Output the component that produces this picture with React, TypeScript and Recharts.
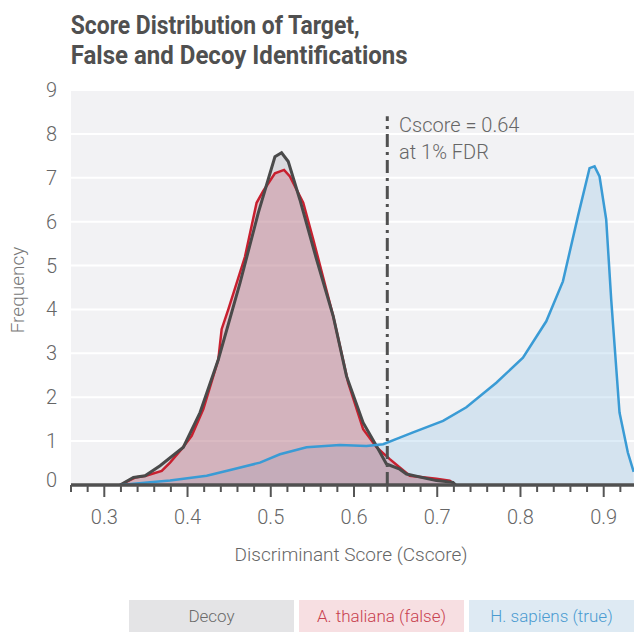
import React from 'react';
import { ComposedChart, Area, Line, XAxis, YAxis, CartesianGrid, ReferenceLine } from 'recharts';

// Decoy distribution
const decoyX = [0.319, 0.335, 0.349, 0.367, 0.395, 0.415, 0.437, 0.463, 0.485, 0.495, 0.505, 0.513, 0.521, 0.535, 0.555, 0.575, 0.591, 0.611, 0.627, 0.639, 0.655, 0.663, 0.699, 0.719, 0.722];
const decoyY = [0, 0.17, 0.21, 0.44, 0.86, 1.65, 2.86, 4.6, 6.2, 6.84, 7.48, 7.57, 7.37, 6.5, 5.14, 3.85, 2.48, 1.42, 0.89, 0.48, 0.36, 0.25, 0.1, 0.06, 0];

// A. thaliana (false)
const falseX = [0.319, 0.337, 0.35, 0.369, 0.379, 0.393, 0.405, 0.419, 0.437, 0.441, 0.449, 0.469, 0.483, 0.491, 0.505, 0.516, 0.523, 0.539, 0.551, 0.575, 0.593, 0.611, 0.627, 0.643, 0.655, 0.667, 0.699, 0.715, 0.722];
const falseY = [0, 0.17, 0.21, 0.32, 0.51, 0.82, 1.12, 1.73, 2.86, 3.55, 4.0, 5.2, 6.43, 6.7, 7.1, 7.18, 7.03, 6.43, 5.6, 3.85, 2.33, 1.27, 0.86, 0.59, 0.4, 0.21, 0.14, 0.1, 0];

// H. sapiens (true)
const trueX = [0.319, 0.355, 0.379, 0.423, 0.455, 0.487, 0.511, 0.543, 0.583, 0.615, 0.635, 0.655, 0.671, 0.707, 0.735, 0.771, 0.803, 0.831, 0.851, 0.869, 0.883, 0.889, 0.895, 0.903, 0.909, 0.919, 0.929, 0.936];
const trueY = [0, 0.06, 0.1, 0.21, 0.36, 0.51, 0.7, 0.86, 0.91, 0.89, 0.93, 1.08, 1.2, 1.46, 1.77, 2.33, 2.9, 3.73, 4.64, 6.12, 7.22, 7.26, 7.03, 6.05, 4.23, 1.65, 0.74, 0.3];

const xTicks = [0.26, 0.28, 0.3, 0.32, 0.34, 0.36, 0.38, 0.4, 0.42, 0.44, 0.46, 0.48, 0.5, 0.52, 0.54, 0.56, 0.58, 0.6, 0.62, 0.64, 0.66, 0.68, 0.7, 0.72, 0.74, 0.76, 0.78, 0.8, 0.82, 0.84, 0.86, 0.88, 0.9, 0.92];
const xMajorTicks = [0.3, 0.4, 0.5, 0.6, 0.7, 0.8, 0.9];
const xMajorLabels = ['0.3', '0.4', '0.5', '0.6', '0.7', '0.8', '0.9'];
const yTicks = [0, 1, 2, 3, 4, 5, 6, 7, 8, 9];
const cutoff = 0.64;
const cutoffTop = 8.4;

const titleLines = ['Score Distribution of Target,', 'False and Decoy Identifications'];
const legendItems = [
  { label: 'Decoy', bg: '#e4e4e6', color: '#6b6b6b' },
  { label: 'A. thaliana (false)', bg: '#f7dfe2', color: '#c8414f' },
  { label: 'H. sapiens (true)', bg: '#deeaf3', color: '#4a9bd1' },
];

const toPoints = (xs: number[], ys: number[]) => xs.map((x, i) => ({ x, y: ys[i] }));
const decoyData = toPoints(decoyX, decoyY);
const falseData = toPoints(falseX, falseY);
const trueData = toPoints(trueX, trueY);

const FONT = 'Roboto, "Noto Sans", sans-serif';
const LIGHT = 300;

const XTick = (props: any) => {
  const { x, y, payload } = props;
  const v = payload.value as number;
  const idx = xMajorTicks.findIndex((m) => Math.abs(m - v) < 1e-6);
  const major = idx >= 0;
  return (
    <g>
      <line x1={x} x2={x} y1={y} y2={y + (major ? 12 : 7)} stroke="#555" strokeWidth={2} />
      {major && (
        <text x={x} y={y + 39} textAnchor="middle" fontSize={20} fontWeight={LIGHT} fill="#666" fontFamily={FONT}>
          {xMajorLabels[idx]}
        </text>
      )}
    </g>
  );
};

const YTick = (props: any) => {
  const { x, y, payload } = props;
  const v = payload.value as number;
  return (
    <text x={x} y={y + (v === 0 ? 2 : 7)} textAnchor="end" fontSize={20} fontWeight={LIGHT} fill="#666" fontFamily={FONT}>
      {String(v)}
    </text>
  );
};

export default function App() {
  return (
    <div style={{ position: 'absolute', left: 0, top: 0, width: 634, height: 632, background: '#fff', fontFamily: FONT, overflow: 'hidden' }}>
      <ComposedChart width={634} height={632} margin={{ top: 90, right: 0, bottom: 87, left: 0 }}>
        <CartesianGrid vertical={false} fill="#f2f2f4" stroke="#ffffff" strokeWidth={2} />
        <XAxis
          type="number"
          dataKey="x"
          domain={[0.26, 0.9364]}
          allowDataOverflow
          ticks={xTicks}
          interval={0}
          tickSize={0}
          tickMargin={0}
          tickLine={false}
          height={60}
          axisLine={{ stroke: '#505050', strokeWidth: 3.5 }}
          tick={<XTick />}
        />
        <YAxis
          type="number"
          domain={[0, 9]}
          ticks={yTicks}
          interval={0}
          width={71}
          tickSize={0}
          tickMargin={14}
          tickLine={false}
          axisLine={false}
          tick={<YTick />}
        />
        <Area data={trueData} dataKey="y" type="linear" stroke="none" fill="#8fc0e3" fillOpacity={0.3} isAnimationActive={false} />
        <Area data={decoyData} dataKey="y" type="linear" stroke="none" fill="#b0b0b5" fillOpacity={0.35} isAnimationActive={false} />
        <Area data={falseData} dataKey="y" type="linear" stroke="none" fill="#c0405a" fillOpacity={0.25} isAnimationActive={false} />
        <Line data={falseData} dataKey="y" type="linear" stroke="#c8202f" strokeWidth={2.5} dot={false} isAnimationActive={false} />
        <Line data={decoyData} dataKey="y" type="linear" stroke="#4a4a4a" strokeWidth={3} dot={false} isAnimationActive={false} />
        <Line data={trueData} dataKey="y" type="linear" stroke="#3a9bd5" strokeWidth={2.5} dot={false} isAnimationActive={false} />
        <ReferenceLine
          segment={[{ x: cutoff, y: 0 }, { x: cutoff, y: cutoffTop }]}
          stroke="#505050"
          strokeWidth={3}
          strokeDasharray="13 5 3 5"
        />
      </ComposedChart>
      <svg width={634} height={632} style={{ position: 'absolute', left: 0, top: 0, pointerEvents: 'none' }}>
        <text x={70.7} y={34} fontSize={26} fontWeight={700} fill="#505050" fontFamily={FONT} textLength={289} lengthAdjust="spacingAndGlyphs">
          {titleLines[0]}
        </text>
        <text x={70.7} y={64} fontSize={26} fontWeight={700} fill="#505050" fontFamily={FONT} textLength={337} lengthAdjust="spacingAndGlyphs">
          {titleLines[1]}
        </text>
        <text x={399} y={132} fontSize={20} fontWeight={LIGHT} fill="#666" fontFamily={FONT}>Cscore = 0.64</text>
        <text x={399} y={159} fontSize={20} fontWeight={LIGHT} fill="#666" fontFamily={FONT}>at 1% FDR</text>
        <text x={351} y={561} fontSize={19} fontWeight={LIGHT} fill="#666" fontFamily={FONT} textAnchor="middle">Discriminant Score (Cscore)</text>
        <text x={0} y={0} fontSize={19} fontWeight={LIGHT} fill="#777" fontFamily={FONT} textAnchor="middle" transform="translate(24 290) rotate(-90)">Frequency</text>
      </svg>
      <div style={{ position: 'absolute', top: 600, left: 129, display: 'flex', gap: 5 }}>
        {legendItems.map((it) => (
          <div key={it.label} style={{ width: 165, height: 32, background: it.bg, color: it.color, fontSize: 17, fontWeight: LIGHT, display: 'flex', alignItems: 'center', justifyContent: 'center' }}>
            {it.label}
          </div>
        ))}
      </div>
    </div>
  );
}
